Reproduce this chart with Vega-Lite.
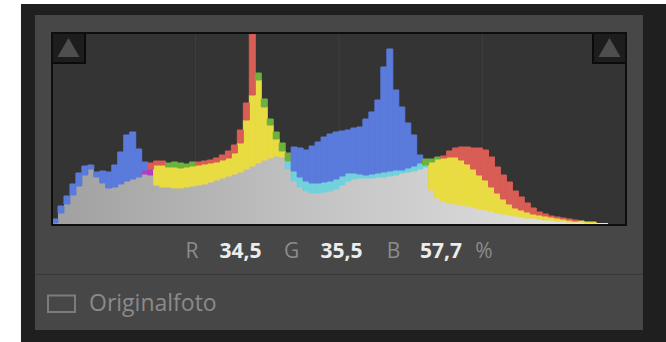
{
  "$schema": "https://vega.github.io/schema/vega-lite/v6.json",
  "width": 574,
  "height": 192,
  "autosize": {"type": "none"},
  "padding": {"left": 52, "top": 33, "right": 40, "bottom": 117},
  "background": "#ffffff",
  "config": {"view": {"stroke": null}, "axis": {"disable": true}},
  "datasets": {
    "hist": [
      {"b0":0,"b1":1,"g":2,"m":2,"mc":"blue","t":6,"tc":"blue"},
      {"b0":1,"b1":2,"g":12,"m":12,"mc":"blue","t":19,"tc":"blue"},
      {"b0":2,"b1":3,"g":21,"m":21,"mc":"blue","t":29,"tc":"blue"},
      {"b0":3,"b1":4,"g":30,"m":30,"mc":"blue","t":41,"tc":"blue"},
      {"b0":4,"b1":5,"g":39,"m":39,"mc":"blue","t":52,"tc":"blue"},
      {"b0":5,"b1":6,"g":50,"m":50,"mc":"blue","t":59,"tc":"blue"},
      {"b0":6,"b1":7,"g":56,"m":56,"mc":"blue","t":60,"tc":"blue"},
      {"b0":7,"b1":8,"g":48,"m":48,"mc":"blue","t":53,"tc":"blue"},
      {"b0":8,"b1":9,"g":42,"m":42,"mc":"blue","t":54,"tc":"blue"},
      {"b0":9,"b1":10,"g":37,"m":37,"mc":"blue","t":53,"tc":"blue"},
      {"b0":10,"b1":11,"g":38,"m":38,"mc":"blue","t":60,"tc":"blue"},
      {"b0":11,"b1":12,"g":41,"m":41,"mc":"blue","t":73,"tc":"blue"},
      {"b0":12,"b1":13,"g":44,"m":44,"mc":"blue","t":90,"tc":"blue"},
      {"b0":13,"b1":14,"g":46,"m":46,"mc":"blue","t":93,"tc":"blue"},
      {"b0":14,"b1":15,"g":48,"m":48,"mc":"blue","t":76,"tc":"blue"},
      {"b0":15,"b1":16,"g":51,"m":55,"mc":"magenta","t":63,"tc":"blue"},
      {"b0":16,"b1":17,"g":50,"m":56,"mc":"magenta","t":62,"tc":"red"},
      {"b0":17,"b1":18,"g":40,"m":60,"mc":"yellow","t":64,"tc":"red"},
      {"b0":18,"b1":19,"g":38,"m":60,"mc":"yellow","t":64,"tc":"red"},
      {"b0":19,"b1":20,"g":38,"m":58,"mc":"yellow","t":62,"tc":"green"},
      {"b0":20,"b1":21,"g":37,"m":58,"mc":"yellow","t":63,"tc":"green"},
      {"b0":21,"b1":22,"g":37,"m":57,"mc":"yellow","t":62,"tc":"green"},
      {"b0":22,"b1":23,"g":38,"m":58,"mc":"yellow","t":61,"tc":"green"},
      {"b0":23,"b1":24,"g":39,"m":59,"mc":"yellow","t":63,"tc":"green"},
      {"b0":24,"b1":25,"g":40,"m":60,"mc":"yellow","t":63,"tc":"red"},
      {"b0":25,"b1":26,"g":41,"m":61,"mc":"yellow","t":64,"tc":"red"},
      {"b0":26,"b1":27,"g":43,"m":62,"mc":"yellow","t":65,"tc":"red"},
      {"b0":27,"b1":28,"g":45,"m":63,"mc":"yellow","t":67,"tc":"red"},
      {"b0":28,"b1":29,"g":47,"m":65,"mc":"yellow","t":70,"tc":"red"},
      {"b0":29,"b1":30,"g":49,"m":67,"mc":"yellow","t":74,"tc":"red"},
      {"b0":30,"b1":31,"g":51,"m":72,"mc":"yellow","t":80,"tc":"red"},
      {"b0":31,"b1":32,"g":53,"m":82,"mc":"yellow","t":95,"tc":"red"},
      {"b0":32,"b1":33,"g":56,"m":105,"mc":"yellow","t":122,"tc":"red"},
      {"b0":33,"b1":34,"g":59,"m":130,"mc":"yellow","t":191,"tc":"red"},
      {"b0":34,"b1":35,"g":62,"m":145,"mc":"yellow","t":152,"tc":"green"},
      {"b0":35,"b1":36,"g":65,"m":118,"mc":"yellow","t":126,"tc":"green"},
      {"b0":36,"b1":37,"g":67,"m":100,"mc":"yellow","t":106,"tc":"green"},
      {"b0":37,"b1":38,"g":69,"m":86,"mc":"yellow","t":93,"tc":"green"},
      {"b0":38,"b1":39,"g":68,"m":74,"mc":"yellow","t":82,"tc":"green"},
      {"b0":39,"b1":40,"g":56,"m":64,"mc":"cyan","t":72,"tc":"green"},
      {"b0":40,"b1":41,"g":44,"m":54,"mc":"cyan","t":78,"tc":"blue"},
      {"b0":41,"b1":42,"g":38,"m":48,"mc":"cyan","t":77,"tc":"blue"},
      {"b0":42,"b1":43,"g":34,"m":44,"mc":"cyan","t":75,"tc":"blue"},
      {"b0":43,"b1":44,"g":32,"m":42,"mc":"cyan","t":79,"tc":"blue"},
      {"b0":44,"b1":45,"g":32,"m":42,"mc":"cyan","t":83,"tc":"blue"},
      {"b0":45,"b1":46,"g":33,"m":43,"mc":"cyan","t":88,"tc":"blue"},
      {"b0":46,"b1":47,"g":34,"m":44,"mc":"cyan","t":91,"tc":"blue"},
      {"b0":47,"b1":48,"g":36,"m":46,"mc":"cyan","t":93,"tc":"blue"},
      {"b0":48,"b1":49,"g":40,"m":49,"mc":"cyan","t":94,"tc":"blue"},
      {"b0":49,"b1":50,"g":44,"m":52,"mc":"cyan","t":95,"tc":"blue"},
      {"b0":50,"b1":51,"g":46,"m":52,"mc":"cyan","t":97,"tc":"blue"},
      {"b0":51,"b1":52,"g":47,"m":51,"mc":"cyan","t":98,"tc":"blue"},
      {"b0":52,"b1":53,"g":47,"m":50,"mc":"cyan","t":106,"tc":"blue"},
      {"b0":53,"b1":54,"g":47,"m":51,"mc":"cyan","t":113,"tc":"blue"},
      {"b0":54,"b1":55,"g":48,"m":52,"mc":"cyan","t":125,"tc":"blue"},
      {"b0":55,"b1":56,"g":48,"m":53,"mc":"cyan","t":158,"tc":"blue"},
      {"b0":56,"b1":57,"g":49,"m":54,"mc":"cyan","t":176,"tc":"blue"},
      {"b0":57,"b1":58,"g":50,"m":55,"mc":"cyan","t":135,"tc":"blue"},
      {"b0":58,"b1":59,"g":52,"m":55,"mc":"cyan","t":118,"tc":"blue"},
      {"b0":59,"b1":60,"g":53,"m":57,"mc":"cyan","t":102,"tc":"blue"},
      {"b0":60,"b1":61,"g":54,"m":59,"mc":"cyan","t":90,"tc":"blue"},
      {"b0":61,"b1":62,"g":56,"m":62,"mc":"cyan","t":70,"tc":"blue"},
      {"b0":62,"b1":63,"g":58,"m":60,"mc":"cyan","t":66,"tc":"green"},
      {"b0":63,"b1":64,"g":35,"m":63,"mc":"yellow","t":66,"tc":"green"},
      {"b0":64,"b1":65,"g":27,"m":66,"mc":"yellow","t":68,"tc":"green"},
      {"b0":65,"b1":66,"g":24,"m":67,"mc":"yellow","t":69,"tc":"red"},
      {"b0":66,"b1":67,"g":22,"m":68,"mc":"yellow","t":74,"tc":"red"},
      {"b0":67,"b1":68,"g":21,"m":68,"mc":"yellow","t":77,"tc":"red"},
      {"b0":68,"b1":69,"g":20,"m":65,"mc":"yellow","t":78,"tc":"red"},
      {"b0":69,"b1":70,"g":19,"m":61,"mc":"yellow","t":78,"tc":"red"},
      {"b0":70,"b1":71,"g":18,"m":56,"mc":"yellow","t":77,"tc":"red"},
      {"b0":71,"b1":72,"g":16,"m":50,"mc":"yellow","t":77,"tc":"red"},
      {"b0":72,"b1":73,"g":15,"m":45,"mc":"yellow","t":75,"tc":"red"},
      {"b0":73,"b1":74,"g":14,"m":38,"mc":"yellow","t":68,"tc":"red"},
      {"b0":74,"b1":75,"g":12,"m":32,"mc":"yellow","t":58,"tc":"red"},
      {"b0":75,"b1":76,"g":11,"m":26,"mc":"yellow","t":50,"tc":"red"},
      {"b0":76,"b1":77,"g":10,"m":21,"mc":"yellow","t":43,"tc":"red"},
      {"b0":77,"b1":78,"g":9,"m":17,"mc":"yellow","t":34,"tc":"red"},
      {"b0":78,"b1":79,"g":8,"m":15,"mc":"yellow","t":28,"tc":"red"},
      {"b0":79,"b1":80,"g":7,"m":13,"mc":"yellow","t":22,"tc":"red"},
      {"b0":80,"b1":81,"g":7,"m":11,"mc":"yellow","t":17,"tc":"red"},
      {"b0":81,"b1":82,"g":6,"m":10,"mc":"yellow","t":13,"tc":"red"},
      {"b0":82,"b1":83,"g":5,"m":9,"mc":"yellow","t":11,"tc":"red"},
      {"b0":83,"b1":84,"g":5,"m":8,"mc":"yellow","t":9,"tc":"red"},
      {"b0":84,"b1":85,"g":4,"m":7,"mc":"yellow","t":8,"tc":"red"},
      {"b0":85,"b1":86,"g":4,"m":6,"mc":"yellow","t":7,"tc":"red"},
      {"b0":86,"b1":87,"g":3,"m":5,"mc":"yellow","t":6,"tc":"red"},
      {"b0":87,"b1":88,"g":3,"m":4,"mc":"yellow","t":5,"tc":"red"},
      {"b0":88,"b1":89,"g":3,"m":4,"mc":"yellow","t":4,"tc":"red"},
      {"b0":89,"b1":90,"g":2,"m":3,"mc":"yellow","t":3,"tc":"red"},
      {"b0":90,"b1":91,"g":2,"m":3,"mc":"yellow","t":3,"tc":"red"},
      {"b0":91,"b1":92,"g":2,"m":2,"mc":"yellow","t":2,"tc":"red"},
      {"b0":92,"b1":93,"g":2,"m":2,"mc":"yellow","t":2,"tc":"red"},
      {"b0":93,"b1":94,"g":1,"m":1,"mc":"yellow","t":1,"tc":"red"},
      {"b0":94,"b1":95,"g":0,"m":0,"mc":"yellow","t":0,"tc":"red"},
      {"b0":95,"b1":96,"g":0,"m":0,"mc":"yellow","t":0,"tc":"red"},
      {"b0":96,"b1":96,"g":0,"m":0,"mc":"yellow","t":0,"tc":"red"}
    ],
    "grid": [{"q": 24}, {"q": 48}, {"q": 72}]
  },
  "layer": [
    {
      "data": {"values": [{}]},
      "mark": {"type": "rect", "color": "#1f1f1f"},
      "encoding": {
        "x": {"datum": -5.19, "type": "quantitative", "scale": {"domain": [0, 96], "nice": false, "zero": false}},
        "x2": {"datum": 102.7},
        "y": {"datum": -117, "type": "quantitative", "scale": {"domain": [0, 192], "nice": false, "zero": false}},
        "y2": {"datum": 221}
      }
    },
    {
      "data": {"values": [{}]},
      "mark": {"type": "rect", "color": "#474747"},
      "encoding": {
        "x": {"datum": -2.843, "type": "quantitative"},
        "x2": {"datum": 98.84},
        "y": {"datum": -105, "type": "quantitative"},
        "y2": {"datum": 210}
      }
    },
    {
      "data": {"values": [{}]},
      "mark": {"type": "rule", "color": "#393939", "strokeWidth": 1},
      "encoding": {
        "x": {"datum": -2.843, "type": "quantitative"},
        "x2": {"datum": 98.84},
        "y": {"datum": -49.5, "type": "quantitative"}
      }
    },
    {
      "data": {"values": [{}]},
      "mark": {"type": "rect", "color": "#343434"},
      "encoding": {
        "x": {"datum": 0, "type": "quantitative"},
        "x2": {"datum": 96},
        "y": {"datum": 0, "type": "quantitative"},
        "y2": {"datum": 192}
      }
    },
    {
      "data": {"name": "grid"},
      "mark": {"type": "rule", "color": "#3d3d3d", "strokeWidth": 1},
      "encoding": {
        "x": {"field": "q", "type": "quantitative"},
        "y": {"datum": 0, "type": "quantitative"},
        "y2": {"datum": 192}
      }
    },
    {
      "data": {"name": "hist"},
      "mark": {
        "type": "area",
        "interpolate": "step-after",
        "color": {"gradient": "linear", "x1": 0, "y1": 0, "x2": 1, "y2": 0,
          "stops": [{"offset": 0, "color": "#a0a0a0"}, {"offset": 0.5, "color": "#c6c6c6"}, {"offset": 1, "color": "#e6e6e6"}]}
      },
      "encoding": {
        "x": {"field": "b0", "type": "quantitative"},
        "y": {"field": "g", "type": "quantitative"}
      }
    },
    {
      "data": {"name": "hist"},
      "transform": [{"filter": "datum.m > datum.g"}],
      "mark": {"type": "rect", "strokeWidth": 1},
      "encoding": {
        "x": {"field": "b0", "type": "quantitative"},
        "x2": {"field": "b1"},
        "y": {"field": "g", "type": "quantitative"},
        "y2": {"field": "m"},
        "fill": {"field": "mc", "type": "nominal", "legend": null,
          "scale": {"domain": ["red", "green", "blue", "yellow", "cyan", "magenta"], "range": ["#d85d55", "#6cb23c", "#5a7bdc", "#e9dc42", "#72d2dc", "#b43cc4"]}},
        "stroke": {"field": "mc", "type": "nominal", "legend": null,
          "scale": {"domain": ["red", "green", "blue", "yellow", "cyan", "magenta"], "range": ["#d85d55", "#6cb23c", "#5a7bdc", "#e9dc42", "#72d2dc", "#b43cc4"]}}
      }
    },
    {
      "data": {"name": "hist"},
      "transform": [{"filter": "datum.t > datum.m"}],
      "mark": {"type": "rect", "strokeWidth": 1},
      "encoding": {
        "x": {"field": "b0", "type": "quantitative"},
        "x2": {"field": "b1"},
        "y": {"field": "m", "type": "quantitative"},
        "y2": {"field": "t"},
        "fill": {"field": "tc", "type": "nominal", "legend": null},
        "stroke": {"field": "tc", "type": "nominal", "legend": null}
      }
    },
    {
      "data": {"values": [{}]},
      "mark": {"type": "rect", "color": "#1d1d1d", "stroke": "#0b0b0b", "strokeWidth": 2},
      "encoding": {
        "x": {"datum": 0, "type": "quantitative"},
        "x2": {"datum": 5.52},
        "y": {"datum": 162, "type": "quantitative"},
        "y2": {"datum": 192}
      }
    },
    {
      "data": {"values": [{}]},
      "mark": {"type": "rect", "color": "#1d1d1d", "stroke": "#0b0b0b", "strokeWidth": 2},
      "encoding": {
        "x": {"datum": 90.48, "type": "quantitative"},
        "x2": {"datum": 96},
        "y": {"datum": 162, "type": "quantitative"},
        "y2": {"datum": 192}
      }
    },
    {
      "data": {"values": [{}]},
      "mark": {"type": "point", "shape": "triangle-up", "size": 484, "filled": true, "color": "#4e4e4e", "opacity": 1},
      "encoding": {
        "x": {"datum": 2.76, "type": "quantitative"},
        "y": {"datum": 177.5, "type": "quantitative"}
      }
    },
    {
      "data": {"values": [{}]},
      "mark": {"type": "point", "shape": "triangle-up", "size": 484, "filled": true, "color": "#4e4e4e", "opacity": 1},
      "encoding": {
        "x": {"datum": 93.24, "type": "quantitative"},
        "y": {"datum": 177.5, "type": "quantitative"}
      }
    },
    {
      "data": {"values": [{}]},
      "mark": {"type": "rect", "fill": null, "fillOpacity": 0, "stroke": "#0e0e0e", "strokeWidth": 2},
      "encoding": {
        "x": {"datum": 0, "type": "quantitative"},
        "x2": {"datum": 96},
        "y": {"datum": 0, "type": "quantitative"},
        "y2": {"datum": 192}
      }
    },
    {
      "data": {"values": [{}]},
      "mark": {"type": "text", "text": "R", "font": "Open Sans", "fontSize": 21, "color": "#8c8c8c", "align": "center", "baseline": "middle"},
      "encoding": {"x": {"datum": 23.42, "type": "quantitative"}, "y": {"datum": -27, "type": "quantitative"}}
    },
    {
      "data": {"values": [{}]},
      "mark": {"type": "text", "text": "34,5", "font": "Open Sans", "fontSize": 21, "fontWeight": "bold", "color": "#ececec", "align": "center", "baseline": "middle"},
      "encoding": {"x": {"datum": 31.53, "type": "quantitative"}, "y": {"datum": -27, "type": "quantitative"}}
    },
    {
      "data": {"values": [{}]},
      "mark": {"type": "text", "text": "G", "font": "Open Sans", "fontSize": 21, "color": "#8c8c8c", "align": "center", "baseline": "middle"},
      "encoding": {"x": {"datum": 40.06, "type": "quantitative"}, "y": {"datum": -27, "type": "quantitative"}}
    },
    {
      "data": {"values": [{}]},
      "mark": {"type": "text", "text": "35,5", "font": "Open Sans", "fontSize": 21, "fontWeight": "bold", "color": "#ececec", "align": "center", "baseline": "middle"},
      "encoding": {"x": {"datum": 48.42, "type": "quantitative"}, "y": {"datum": -27, "type": "quantitative"}}
    },
    {
      "data": {"values": [{}]},
      "mark": {"type": "text", "text": "B", "font": "Open Sans", "fontSize": 21, "color": "#8c8c8c", "align": "center", "baseline": "middle"},
      "encoding": {"x": {"datum": 57.12, "type": "quantitative"}, "y": {"datum": -27, "type": "quantitative"}}
    },
    {
      "data": {"values": [{}]},
      "mark": {"type": "text", "text": "57,7", "font": "Open Sans", "fontSize": 21, "fontWeight": "bold", "color": "#ececec", "align": "center", "baseline": "middle"},
      "encoding": {"x": {"datum": 65.06, "type": "quantitative"}, "y": {"datum": -27, "type": "quantitative"}}
    },
    {
      "data": {"values": [{}]},
      "mark": {"type": "text", "text": "%", "font": "Open Sans", "fontSize": 21, "color": "#8c8c8c", "align": "center", "baseline": "middle"},
      "encoding": {"x": {"datum": 72.25, "type": "quantitative"}, "y": {"datum": -27, "type": "quantitative"}}
    },
    {
      "data": {"values": [{}]},
      "mark": {"type": "rect", "fill": null, "fillOpacity": 0, "stroke": "#7c7c7c", "strokeWidth": 2},
      "encoding": {
        "x": {"datum": -0.669, "type": "quantitative"},
        "x2": {"datum": 3.847},
        "y": {"datum": -70.5, "type": "quantitative"},
        "y2": {"datum": -87}
      }
    },
    {
      "data": {"values": [{}]},
      "mark": {"type": "text", "text": "Originalfoto", "font": "Open Sans", "fontSize": 23, "color": "#8a8a8a", "align": "left", "baseline": "middle"},
      "encoding": {"x": {"datum": 6.19, "type": "quantitative"}, "y": {"datum": -79, "type": "quantitative"}}
    }
  ]
}
